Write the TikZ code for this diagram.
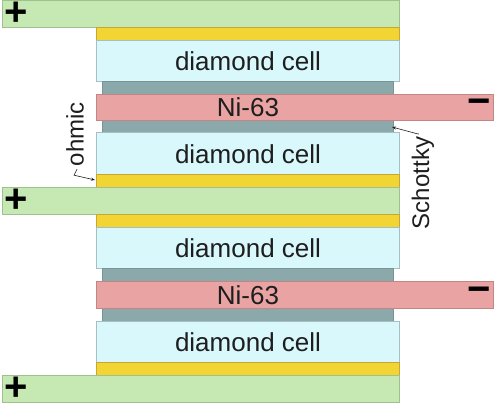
\documentclass[tikz,border=0pt]{standalone}
\usepackage{fontspec}
\setmainfont{Liberation Sans}
\usetikzlibrary{arrows.meta}
\definecolor{gfill}{HTML}{C6E9B4}
\definecolor{gdraw}{HTML}{9FC18E}
\definecolor{yfill}{HTML}{F2D433}
\definecolor{ydraw}{HTML}{C4A63A}
\definecolor{cfill}{HTML}{D9F8FC}
\definecolor{cdraw}{HTML}{A7BFC3}
\definecolor{sfill}{HTML}{8BA9AA}
\definecolor{sdraw}{HTML}{789696}
\definecolor{nfill}{HTML}{E9A3A3}
\definecolor{ndraw}{HTML}{C28686}
\definecolor{txt}{HTML}{1E1E1E}
\begin{document}
\begin{tikzpicture}[x=1pt,y=-1pt,
  greenbar/.style={fill=gfill,draw=gdraw,line width=0.8pt},
  yellowbar/.style={fill=yfill,draw=ydraw,line width=0.8pt},
  cellbox/.style={fill=cfill,draw=cdraw,line width=0.8pt},
  schbar/.style={fill=sfill,draw=sdraw,line width=0.8pt},
  nibar/.style={fill=nfill,draw=ndraw,line width=0.8pt},
  bigtext/.style={text=txt,font=\fontsize{26}{30}\selectfont,inner sep=0pt},
  sidetext/.style={text=txt,font=\fontsize{24}{28}\selectfont,inner sep=0pt,rotate=90},
  signtext/.style={text=black,font=\fontsize{40}{44}\selectfont\bfseries,inner sep=0pt},
  leader/.style={draw=txt,line width=0.6pt,-{Stealth[length=4pt,width=3pt]}}
]
\useasboundingbox (0,0) rectangle (495,406);
\fill[white] (0,0) rectangle (495,406);
% stack
\draw[greenbar] (2,0) rectangle (399,27);
\draw[yellowbar] (96,27) rectangle (399,40);
\draw[cellbox] (96,40) rectangle (399,81);
\draw[schbar] (102,81) rectangle (393,94);
\draw[schbar] (102,120) rectangle (393,132);
\draw[nibar] (96,94) rectangle (493,120);
\draw[cellbox] (96,132) rectangle (399,174);
\draw[yellowbar] (96,174) rectangle (399,187);
\draw[greenbar] (2,187) rectangle (399,214);
\draw[yellowbar] (96,214) rectangle (399,227);
\draw[cellbox] (96,227) rectangle (399,268);
\draw[schbar] (102,268) rectangle (393,281);
\draw[schbar] (102,308) rectangle (393,321);
\draw[nibar] (96,281) rectangle (493,308);
\draw[cellbox] (96,321) rectangle (399,362);
\draw[yellowbar] (96,362) rectangle (399,375);
\draw[greenbar] (2,375) rectangle (399,402);
% texts
\node[bigtext] (c1) at (248,61) {diamond cell};
\node[bigtext] (n1) at (248,107) {Ni-63};
\node[bigtext] (c2) at (248,154) {diamond cell};
\node[bigtext] (c3) at (248,248) {diamond cell};
\node[bigtext] (n2) at (248,295) {Ni-63};
\node[bigtext] (c4) at (248,342) {diamond cell};
\node[signtext] (p1) at (16,14) {+};
\node[signtext] (p2) at (16,201) {+};
\node[signtext] (p3) at (16,389) {+};
\node[signtext] (m1) at (479,107) {−};
\node[signtext] (m2) at (479,295) {−};
\node[sidetext] (ohm) at (75,134) {ohmic};
\node[sidetext] (sch) at (423,183) {Schottky};
\coordinate (ohmtip) at (95,180);
\coordinate (schtip) at (392,127);
\draw[leader] ([shift={(2,3)}]ohm.west) -- ++(-3,6) -- (ohmtip);
\draw[leader] ([shift={(-4,-3)}]sch.east) -- (418,134) -- (schtip);
\end{tikzpicture}
\end{document}
